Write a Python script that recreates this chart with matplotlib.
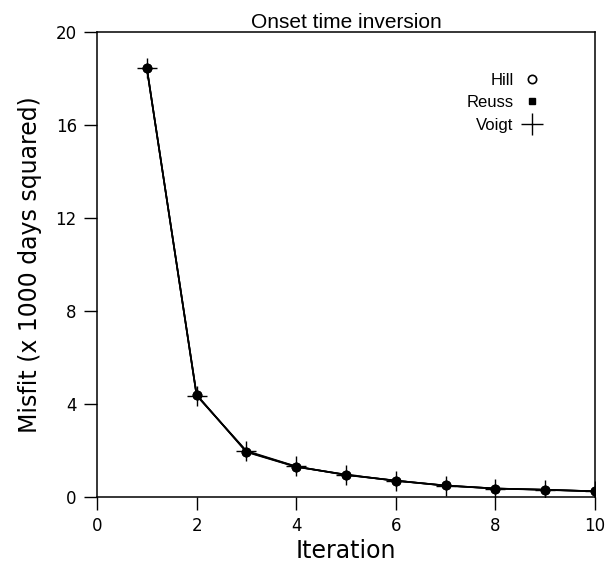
import matplotlib.pyplot as plt
from matplotlib.lines import Line2D

# 迭代次数和三种平均方式的误差
iteration = [1, 2, 3, 4, 5, 6, 7, 8, 9, 10]
hill = [18.45, 4.38, 1.95, 1.30, 0.95, 0.70, 0.49, 0.36, 0.31, 0.24]
reuss = [18.45, 4.40, 1.93, 1.29, 0.96, 0.69, 0.49, 0.36, 0.30, 0.24]
voigt = [18.47, 4.36, 1.98, 1.31, 0.94, 0.70, 0.48, 0.36, 0.31, 0.24]

xticks = [0, 2, 4, 6, 8, 10]
yticks = [0, 4, 8, 12, 16, 20]

fig = plt.figure(figsize=(6.14, 5.64), dpi=100)
ax = fig.add_axes([0.158, 0.119, 0.811, 0.824])

ax.plot(iteration, voigt, color='black', lw=1.2, marker='+', ms=14, mew=1.0)
ax.plot(iteration, hill, color='black', lw=1.2, marker='o', ms=6, mfc='white', mew=1.2)
ax.plot(iteration, reuss, color='black', lw=1.2, marker='o', ms=7, mfc='black', mew=0)

ax.set_xlim(0, 10)
ax.set_ylim(0, 20)
ax.set_xticks(xticks)
ax.set_yticks(yticks)
ax.tick_params(direction='out', length=9.5, width=1.0, labelsize=12, pad=5)
for s in ax.spines.values():
    s.set_linewidth(1.1)
for lab in ax.get_xticklabels() + ax.get_yticklabels():
    lab.set_fontfamily('DejaVu Sans')

ax.set_xlabel('Iteration', fontsize=17, family='DejaVu Sans', labelpad=3)
ax.set_ylabel('Misfit (x 1000 days squared)', fontsize=17, family='DejaVu Sans', labelpad=10)
ax.set_title('Onset time inversion', fontsize=15, family='Liberation Sans', pad=3)

handles = [
    Line2D([], [], ls='none', marker='o', ms=6, mfc='white', mec='black', mew=1.2),
    Line2D([], [], ls='none', marker='s', ms=5, color='black'),
    Line2D([], [], ls='none', marker='+', ms=16, color='black', mew=1.0),
]
ax.legend(handles, ['Hill', 'Reuss', 'Voigt'], loc='upper right', bbox_to_anchor=(0.92, 0.945),
          frameon=False, markerfirst=False, handlelength=1.0, handletextpad=0.6,
          labelspacing=0.45, prop={'family': 'Liberation Sans', 'size': 12})

fig.savefig('out.png', dpi=100)
